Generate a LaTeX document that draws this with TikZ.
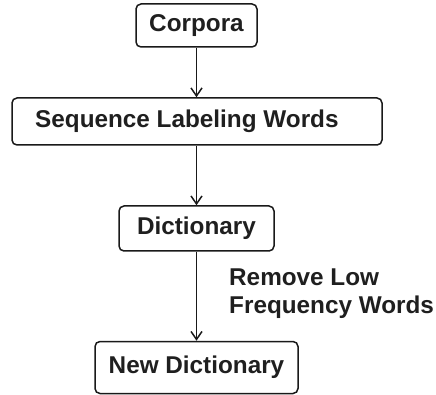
\documentclass[tikz,border=0pt]{standalone}
\usepackage{fontspec}
\setmainfont{Liberation Sans}
\usetikzlibrary{arrows.meta}
\begin{document}
\begin{tikzpicture}[x=1pt,y=1pt,
  box/.style={draw=black!90, line width=1.5pt, rounded corners=5pt, inner sep=0pt},
  txt/.style={font=\fontsize{24.3}{28}\selectfont\bfseries, text=black!88, inner sep=0pt},
  conn/.style={draw=black!90, line width=1.5pt, -{Straight Barb[length=8pt,width=11pt,line width=1.5pt]}}]
\useasboundingbox (0,0) rectangle (436,-395);
\node[box, txt, minimum width=121pt, minimum height=43pt] (corp) at (196.5,-25.5) {Corpora};
\node[box, minimum width=370pt, minimum height=47pt] (seq) at (197,-121.5) {};
\node[txt, anchor=west] (seqt) at (35,-121.5) {Sequence Labeling Words};
\node[box, txt, minimum width=155pt, minimum height=45pt] (dict) at (196.5,-228.5) {Dictionary};
\node[box, txt, minimum width=203pt, minimum height=52pt] (newd) at (196.5,-367.5) {New Dictionary};
\node[txt, anchor=west, align=left] (rem) at (229,-294) {Remove Low\\Frequency Words};
\draw[conn] (corp.south) -- (corp.south |- seq.north);
\draw[conn] (seq.south -| dict.north) -- (dict.north);
\draw[conn] (dict.south) -- (newd.north);
\end{tikzpicture}
\end{document}
